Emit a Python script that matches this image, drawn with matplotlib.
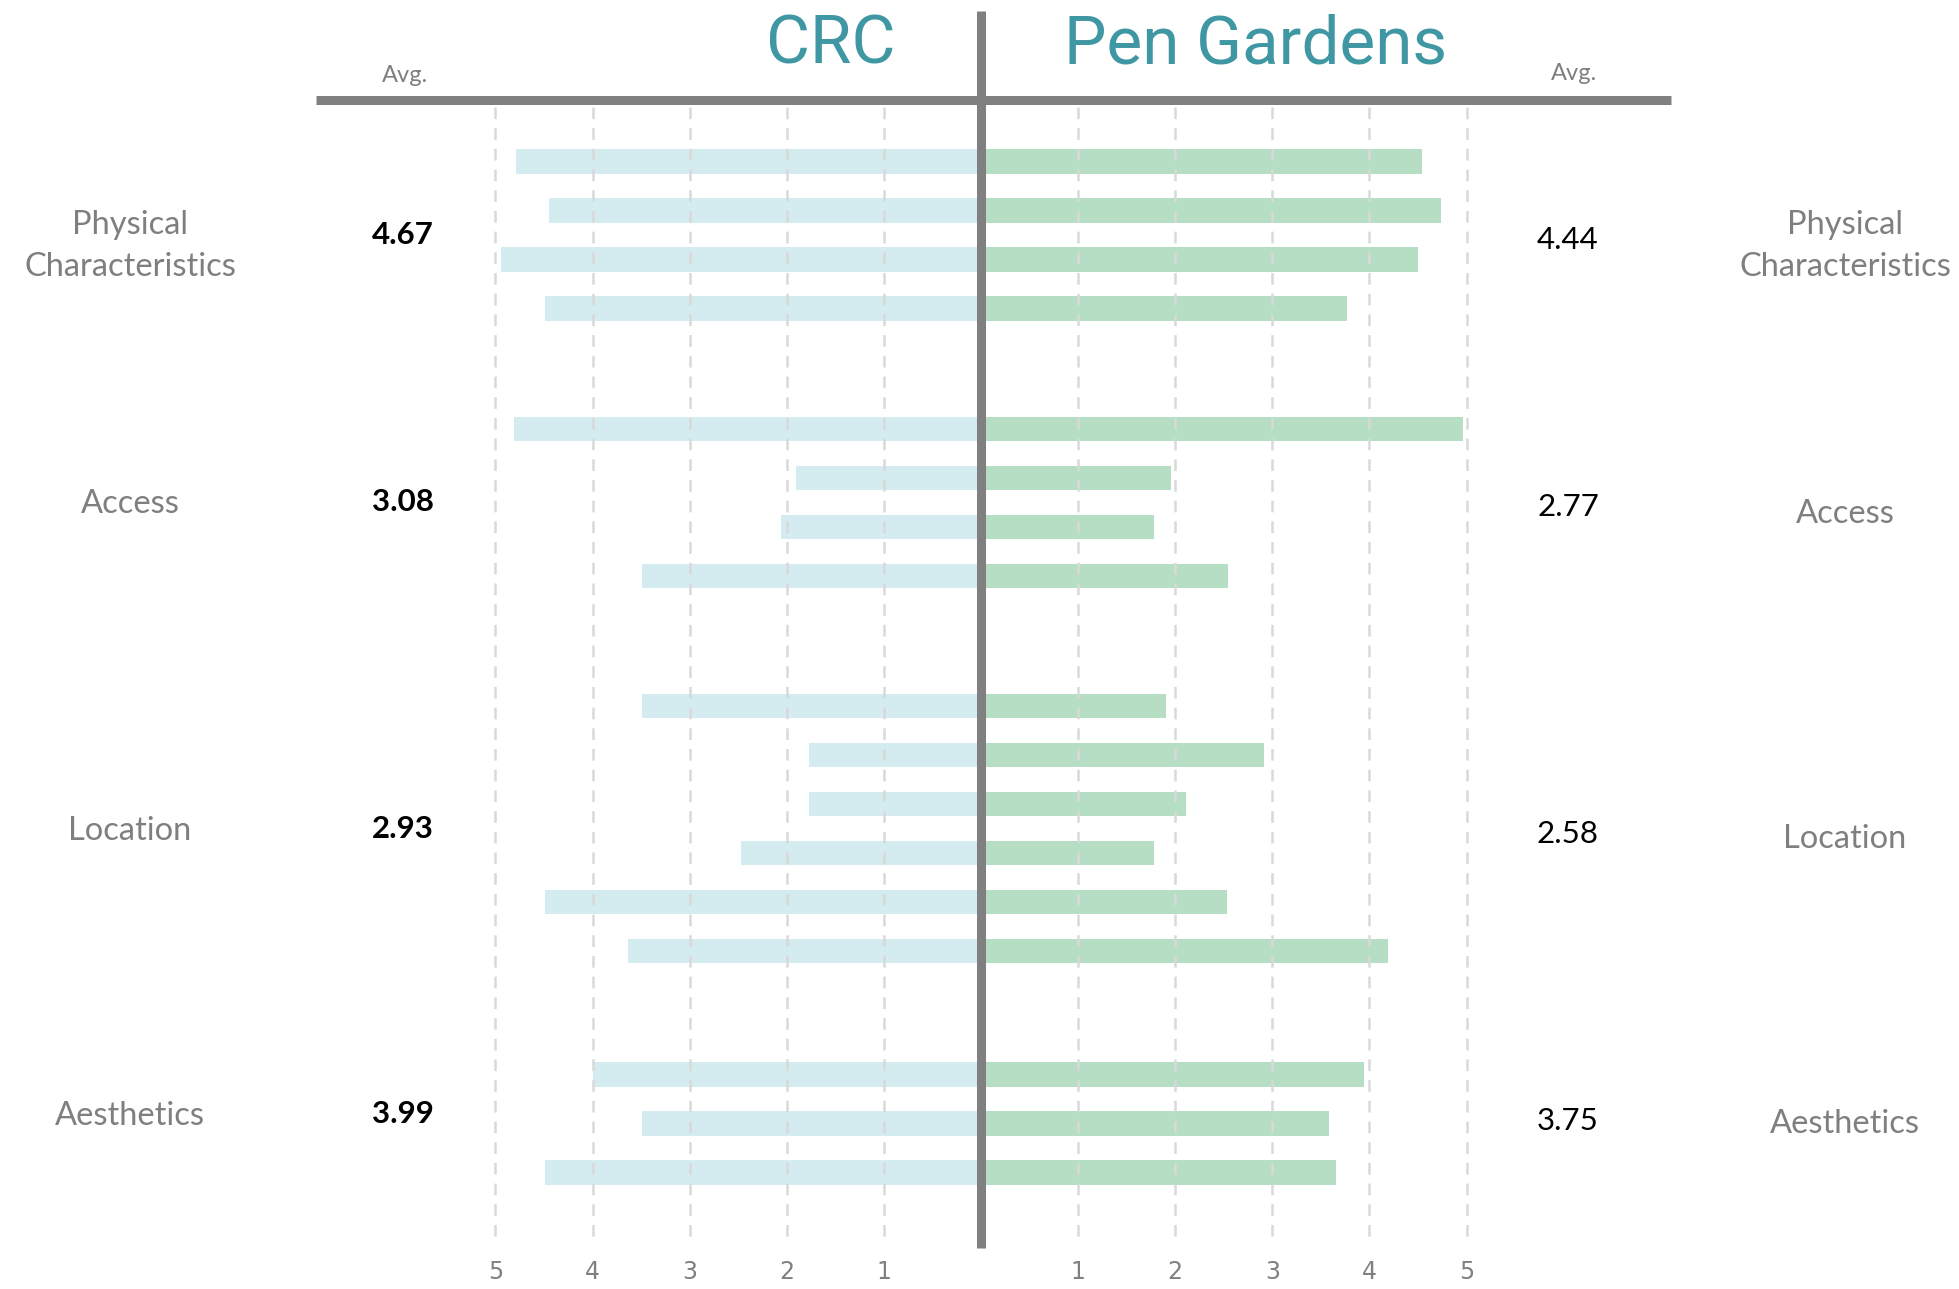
"""
 diverging bar chart: CRC vs Pen Gardens ratings per criterion
"""
import matplotlib.pyplot as plt
import numpy as np

plt.rcParams['lines.scale_dashes'] = False

groups = ['Physical\nCharacteristics', 'Access', 'Location', 'Aesthetics']
crc = [
    [4.79, 4.45, 4.94, 4.49],
    [4.81, 1.91, 2.06, 3.49],
    [3.49, 1.77, 1.77, 2.47, 4.49, 3.64],
    [4.00, 3.49, 4.49],
]
pen = [
    [4.54, 4.74, 4.50, 3.77],
    [4.96, 1.96, 1.78, 2.54],
    [1.91, 2.91, 2.11, 1.78, 2.53, 4.19],
    [3.94, 3.58, 3.66],
]
crc_avg = ['4.67', '3.08', '2.93', '3.99']
pen_avg = ['4.44', '2.77', '2.58', '3.75']
ticks = [1, 2, 3, 4, 5]

# layout (pixels of the 1959x1289 canvas)
W, H = 1959, 1289
X0, UNIT = 981, 97.1     # zero line and px per score point
Y0, ROW = 161.3, 49.0    # first bar centre and row pitch
gaps = [2.46, 2.66, 2.52]
# vertical nudges (in rows) of the side texts from each group's centre
lab_l_dy = [0.22, 0.03, 0.05, -0.15]
lab_r_dy = [0.23, 0.23, 0.22, 0.0]
avg_l_dy = [0.0, 0.0, 0.0, -0.2]
avg_r_dy = [0.1, 0.1, 0.1, -0.06]


def px(x):
    return (x - X0) / UNIT


def py(y):
    return (y - Y0) / ROW


c_left = '#d4ecef'
c_right = '#b6dec4'
c_line = '#808080'
c_grid = '#d9d9d9'
c_text = '#7f7f7f'
c_title = '#3f97a3'
body = ['Lato', 'DejaVu Sans']

fig = plt.figure(figsize=(W / 100, H / 100), dpi=100)
ax = fig.add_axes([0, 0, 1, 1])
ax.set_xlim(px(0), px(W))
ax.set_ylim(py(H), py(0))
ax.axis('off')

# row positions, with a gap between groups
rows = []
y = 0.0
for g in range(len(groups)):
    r = y + np.arange(len(crc[g]))
    rows.append(r)
    if g < len(gaps):
        y = r[-1] + gaps[g]

for g in range(len(groups)):
    ax.barh(rows[g], -np.array(crc[g]), height=0.5, color=c_left, zorder=1)
    ax.barh(rows[g], pen[g], height=0.5, color=c_right, zorder=1)

    yc = rows[g].mean()
    ax.text(px(130), yc + lab_l_dy[g], groups[g], ha='center', va='center',
            color=c_text, fontsize=23.5, family=body, linespacing=1.5)
    ax.text(px(1845), yc + lab_r_dy[g], groups[g], ha='center', va='center',
            color=c_text, fontsize=23.5, family=body, linespacing=1.5)
    ax.text(px(403), yc + avg_l_dy[g], crc_avg[g], ha='center', va='center',
            color='black', fontsize=22.5, fontweight='bold', family=body)
    ax.text(px(1568), yc + avg_r_dy[g], pen_avg[g], ha='center', va='center',
            color='black', fontsize=22.5, family=body)

# dashed grid drawn over the bars
for t in ticks:
    for s in (-1, 1):
        ax.plot([s * t, s * t], [py(107), py(1240)], color=c_grid, lw=1.8,
                dashes=(8.4, 6.5), zorder=2)
        ax.text(s * t, py(1272), str(t), ha='center', va='center',
                color=c_line, fontsize=17,
                family=['Liberation Sans Narrow', 'DejaVu Sans'])

ax.plot([px(316), px(1671)], [py(100.5)] * 2, color=c_line, lw=6.5,
        solid_capstyle='butt', zorder=3)
ax.plot([0, 0], [py(11), py(1248)], color=c_line, lw=6.5,
        solid_capstyle='butt', zorder=4)

ax.text(px(831), py(46), 'CRC', ha='center', va='center', color=c_title,
        fontsize=48.5, family=['Roboto', 'DejaVu Sans'])
ax.text(px(1256), py(46), 'Pen Gardens', ha='center', va='center',
        color=c_title, fontsize=48.5, family=['Roboto', 'DejaVu Sans'])
ax.text(px(405), py(76), 'Avg.', ha='center', va='center', color=c_text,
        fontsize=17, family=body)
ax.text(px(1574), py(73), 'Avg.', ha='center', va='center', color=c_text,
        fontsize=17, family=body)

fig.savefig('out.png', dpi=100)
